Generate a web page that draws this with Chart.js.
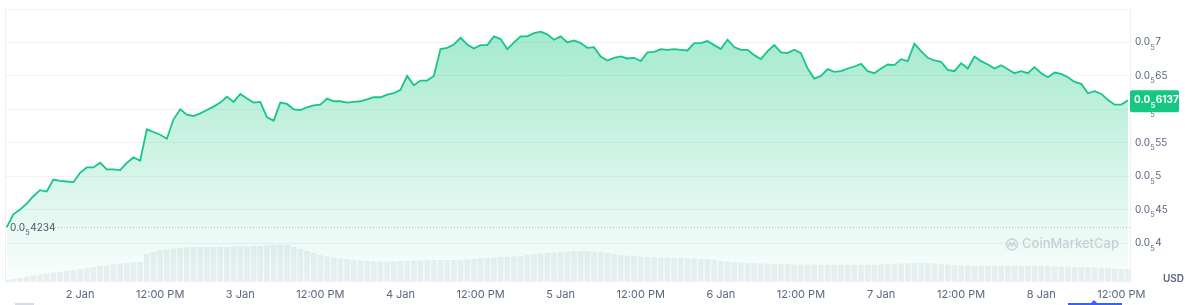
<!DOCTYPE html>
<html>
<head>
<meta charset="utf-8">
<script src="https://cdn.jsdelivr.net/npm/chart.js@4.4.1/dist/chart.umd.min.js"></script>
<style>
  html, body { margin: 0; padding: 0; background: #fff; }
  #wrap { width: 1185px; height: 305px; }
</style>
</head>
<body>
<div id="wrap"><canvas id="priceChart"></canvas></div>
<script>
// one sample per hour, hour 0 = 2 Jan 00:00
const firstHour = -11;

// price in units of 0.0₅ USD (x 1e-6)
const prices = [
    4.234, 4.43, 4.50, 4.59, 4.70, 4.79, 4.77, 4.95, 4.93, 4.92, 4.91, 5.05,
    5.13, 5.13, 5.20, 5.10, 5.10, 5.09, 5.20, 5.28, 5.23, 5.70, 5.66, 5.62,
    5.56, 5.85, 6.00, 5.92, 5.90, 5.94, 5.99, 6.04, 6.10, 6.19, 6.11, 6.23,
    6.16, 6.10, 6.11, 5.88, 5.83, 6.10, 6.08, 6.00, 5.99, 6.03, 6.06, 6.07,
    6.16, 6.12, 6.12, 6.10, 6.11, 6.12, 6.15, 6.18, 6.18, 6.22, 6.24, 6.29,
    6.50, 6.36, 6.43, 6.43, 6.50, 6.90, 6.92, 6.97, 7.07, 6.97, 6.91, 6.96,
    6.96, 7.09, 7.05, 6.90, 7.00, 7.09, 7.09, 7.14, 7.16, 7.12, 7.04, 7.09,
    7.00, 7.03, 6.99, 6.92, 6.93, 6.79, 6.73, 6.77, 6.79, 6.76, 6.77, 6.72,
    6.85, 6.86, 6.90, 6.89, 6.90, 6.89, 6.88, 6.99, 6.99, 7.02, 6.96, 6.90,
    7.04, 6.93, 6.89, 6.89, 6.81, 6.75, 6.87, 6.96, 6.85, 6.84, 6.89, 6.84,
    6.61, 6.46, 6.50, 6.60, 6.56, 6.57, 6.61, 6.64, 6.68, 6.57, 6.54, 6.61,
    6.67, 6.66, 6.75, 6.72, 6.98, 6.87, 6.77, 6.73, 6.71, 6.59, 6.57, 6.69,
    6.61, 6.79, 6.72, 6.67, 6.61, 6.66, 6.60, 6.54, 6.57, 6.54, 6.63, 6.54,
    6.48, 6.55, 6.53, 6.48, 6.41, 6.38, 6.24, 6.27, 6.23, 6.14, 6.07, 6.07,
    6.137
];

// relative volume (no scale shown on the chart)
const volumes = [
    2, 3, 4, 5.5, 6.5, 7.5, 8.5, 9.5, 10, 11, 12, 13,
    14, 15, 16, 16.5, 17.5, 18.5, 19, 19.5, 20, 28, 30, 31.5,
    32.5, 33.5, 34, 34.5, 35, 35, 35, 35, 35, 35, 35.5, 35.5,
    35.5, 36, 36, 36.5, 37, 37, 37, 35, 33, 31, 29, 27,
    25.5, 24.5, 23.5, 23, 22, 21.5, 21, 20.5, 20.5, 20.5, 20.5, 21,
    21, 21.5, 21.5, 22, 22, 22, 22, 22, 22, 22.5, 23, 23.5,
    24, 24.5, 25, 25, 25.5, 26, 27, 28, 28.5, 29, 29.5, 30,
    30.5, 31, 31, 31, 30.5, 30, 29, 28, 27, 26.5, 26, 25.5,
    25, 25, 24.5, 24.5, 24, 24, 23.5, 23.5, 23, 23, 22, 21,
    20.5, 20, 19.5, 19, 19, 18.5, 18.5, 18, 18, 18, 17.5, 17.5,
    17.5, 17.5, 17, 17, 17, 17, 17, 17, 17, 17, 17, 17.5,
    18, 18.5, 18.5, 19, 19, 19, 19, 18.5, 18, 17.5, 17, 16.5,
    16.5, 16, 16, 16, 16, 16, 16, 16, 16, 16, 16, 16,
    16, 15.5, 15.5, 15.5, 15, 15, 15, 14.5, 14, 14, 13.5, 13,
    13
];

const xTickHours = [0, 12, 24, 36, 48, 60, 72, 84, 96, 108, 120, 132, 144, 156];
const xTickLabels = ['2 Jan', '12:00 PM', '3 Jan', '12:00 PM', '4 Jan', '12:00 PM', '5 Jan',
    '12:00 PM', '6 Jan', '12:00 PM', '7 Jan', '12:00 PM', '8 Jan', '12:00 PM'];
const priceTicks = [4, 4.5, 5, 5.5, 6, 6.5, 7, 7.5];

const labelColor = '#58667e';
const green = '#16c784';

// draws 0.0₅xxxx with a real lowered subscript
function drawSubPrice(ctx, value, x, y, color, weight) {
    const digits = String(value).replace('.', '');
    ctx.save();
    ctx.fillStyle = color;
    ctx.textBaseline = 'middle';
    ctx.textAlign = 'left';
    ctx.font = weight + ' 10px Inter';
    ctx.fillText('0.0', x, y);
    let w = ctx.measureText('0.0').width;
    ctx.font = weight + ' 7px Inter';
    ctx.fillText('5', x + w + 0.5, y + 5.5);
    w += ctx.measureText('5').width + 1;
    ctx.font = weight + ' 10px Inter';
    ctx.fillText(digits, x + w, y);
    ctx.restore();
}

const overlayPlugin = {
    id: 'overlay',
    afterDraw(chart) {
        const ctx = chart.ctx;
        const area = chart.chartArea;
        const yScale = chart.scales.y;

        // left frame line
        ctx.save();
        ctx.strokeStyle = '#eceff3';
        ctx.lineWidth = 1;
        ctx.beginPath();
        ctx.moveTo(area.left + 0.5, area.top);
        ctx.lineTo(area.left + 0.5, area.bottom);
        ctx.stroke();
        ctx.restore();

        // right axis labels
        priceTicks.slice(0, -1).forEach(v => {
            drawSubPrice(ctx, v, area.right + 5, yScale.getPixelForValue(v), labelColor, '400');
        });

        // opening price, dotted
        const openY = Math.round(yScale.getPixelForValue(prices[0])) + 0.5;
        ctx.save();
        ctx.strokeStyle = '#b8bfcb';
        ctx.lineWidth = 1;
        ctx.setLineDash([1, 2]);
        ctx.beginPath();
        ctx.moveTo(area.left + 50, openY);
        ctx.lineTo(area.right, openY);
        ctx.stroke();
        ctx.restore();
        drawSubPrice(ctx, prices[0], area.left + 5, openY, '#4a5568', '400');

        // current price tag
        const last = prices[prices.length - 1];
        const lastY = yScale.getPixelForValue(last) + 1;
        ctx.save();
        ctx.fillStyle = green;
        ctx.beginPath();
        ctx.roundRect(area.right, lastY - 11, 49, 22, 2);
        ctx.fill();
        ctx.restore();
        drawSubPrice(ctx, last, area.right + 4, lastY - 1, '#ffffff', '700');

        // watermark
        ctx.save();
        ctx.strokeStyle = '#c9ced6';
        ctx.fillStyle = '#c9ced6';
        ctx.lineWidth = 1.3;
        ctx.beginPath();
        ctx.arc(1012, 244.5, 5.5, 0, Math.PI * 2);
        ctx.stroke();
        ctx.beginPath();
        ctx.moveTo(1008.5, 247);
        ctx.lineTo(1010, 242);
        ctx.lineTo(1012, 246);
        ctx.lineTo(1014, 242);
        ctx.lineTo(1015.5, 246.5);
        ctx.stroke();
        ctx.font = '500 13px Inter';
        ctx.textBaseline = 'middle';
        ctx.fillText('CoinMarketCap', 1022, 244.5);
        ctx.restore();

        // currency
        ctx.save();
        ctx.fillStyle = labelColor;
        ctx.font = '600 10px Inter';
        ctx.textAlign = 'right';
        ctx.textBaseline = 'middle';
        ctx.fillText('USD', 1184, 279);
        ctx.restore();

        // range slider hints at the very bottom
        ctx.save();
        ctx.fillStyle = '#3861fb';
        ctx.fillRect(1068, 303, 54, 2);
        ctx.beginPath();
        ctx.moveTo(1091, 303);
        ctx.lineTo(1094, 300);
        ctx.lineTo(1097, 303);
        ctx.fill();
        ctx.fillStyle = '#d5dbe5';
        ctx.fillRect(15, 303, 19, 2);
        ctx.restore();
    }
};

document.addEventListener('DOMContentLoaded', function () {
    const ctxPrice = document.getElementById('priceChart').getContext('2d');

    const priceChart = new Chart(ctxPrice, {
        type: 'line',
        data: {
            datasets: [{
                type: 'line',
                label: 'Price',
                data: prices.map((p, i) => ({ x: firstHour + i, y: p })),
                yAxisID: 'y',
                borderColor: green,
                borderWidth: 1.8,
                pointRadius: 0,
                tension: 0,
                fill: 'start',
                backgroundColor: function (context) {
                    const area = context.chart.chartArea;
                    if (!area) {
                        return 'rgba(22, 199, 132, 0.2)';
                    }
                    const g = context.chart.ctx.createLinearGradient(0, area.top, 0, area.bottom);
                    g.addColorStop(0, 'rgba(22, 199, 132, 0.42)');
                    g.addColorStop(1, 'rgba(22, 199, 132, 0.02)');
                    return g;
                },
                order: 1
            }, {
                type: 'bar',
                label: 'Volume',
                data: volumes.map((v, i) => ({ x: firstHour + i, y: v })),
                yAxisID: 'volume',
                backgroundColor: '#edf0f4',
                barPercentage: 0.85,
                categoryPercentage: 1,
                order: 2
            }]
        },
        options: {
            responsive: true,
            maintainAspectRatio: false,
            animation: false,
            layout: {
                padding: { top: 9, left: 5, right: 0, bottom: 4 }
            },
            plugins: {
                legend: { display: false },
                tooltip: { enabled: false }
            },
            scales: {
                x: {
                    type: 'linear',
                    min: -11.25,
                    max: 157.3,
                    offset: false,
                    afterBuildTicks: (scale) => {
                        scale.ticks = xTickHours.map(h => ({ value: h }));
                    },
                    afterFit: (scale) => {
                        scale.height = 19;
                    },
                    ticks: {
                        autoSkip: false,
                        maxRotation: 0,
                        padding: 6,
                        color: labelColor,
                        font: { family: 'Inter', size: 11 },
                        callback: (value, index) => xTickLabels[index]
                    },
                    grid: { display: false, drawTicks: false },
                    border: { display: false }
                },
                y: {
                    position: 'right',
                    min: 3.417,
                    max: 7.5,
                    afterBuildTicks: (scale) => {
                        scale.ticks = priceTicks.map(v => ({ value: v }));
                    },
                    afterFit: (scale) => {
                        scale.width = 55;
                    },
                    ticks: { display: false },
                    grid: {
                        color: '#f0f2f5',
                        drawTicks: false
                    },
                    border: { color: '#eceff3' }
                },
                volume: {
                    display: false,
                    min: 0,
                    max: 273
                }
            }
        },
        plugins: [overlayPlugin]
    });
});
</script>
</body>
</html>
